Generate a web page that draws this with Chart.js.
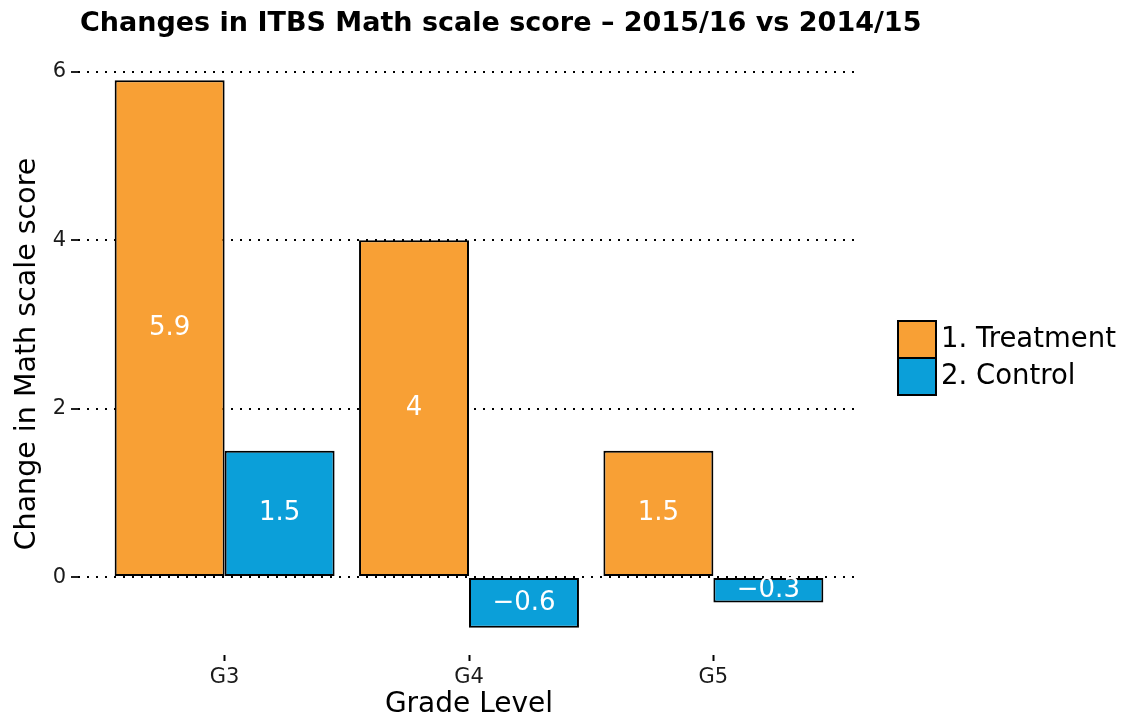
<!DOCTYPE html>
<html>
<head>
<meta charset="utf-8">
<script src="https://cdn.jsdelivr.net/npm/chart.js@4/dist/chart.umd.min.js"></script>
<style>
  html, body { margin: 0; padding: 0; background: #fff; }
  #wrap { width: 1125px; height: 725px; }
</style>
</head>
<body>
<div id="wrap"><canvas id="chart" width="1125" height="725"></canvas></div>
<script>
// ================== Data ==================
const titleText = "Changes in ITBS Math scale score \u2013 2015/16 vs 2014/15";
const grades = ["G3", "G4", "G5"];
const seriesNames = ["1. Treatment", "2. Control"];
const treatment = [5.9, 4, 1.5];
const control = [1.5, -0.6, -0.3];
const yTicks = [0, 2, 4, 6];

const seriesColors = ["#F8A035", "#0B9FD9"];
const FONT = "'DejaVu Sans', 'Liberation Sans', Arial, sans-serif";

const fmt = (v) => (v < 0 ? "\u2212" + Math.abs(v) : String(v));

// ================== Plugin: title, bar labels, legend ==================
const extras = {
  id: "extras",
  afterDatasetsDraw(chart) {
    const ctx = chart.ctx;
    const area = chart.chartArea;
    ctx.save();

    // bar value labels, centred in each bar
    ctx.font = "26px " + FONT;
    ctx.fillStyle = "#ffffff";
    ctx.textAlign = "center";
    ctx.textBaseline = "middle";
    chart.data.datasets.forEach((ds, di) => {
      const meta = chart.getDatasetMeta(di);
      meta.data.forEach((bar, i) => {
        const v = ds.data[i].y;
        ctx.fillText(fmt(v), bar.x, (bar.y + bar.base) / 2);
      });
    });

    // title
    ctx.font = "bold 27px " + FONT;
    ctx.fillStyle = "#000";
    ctx.textAlign = "left";
    ctx.fillText(titleText, 80, 24);

    // legend
    const lx = area.right + 38;
    let ly = 321;
    ctx.font = "27.5px " + FONT;
    chart.data.datasets.forEach((ds) => {
      ctx.fillStyle = ds.backgroundColor;
      ctx.fillRect(lx, ly, 38, 37);
      ctx.lineWidth = 2;
      ctx.strokeStyle = "#000";
      ctx.strokeRect(lx, ly, 38, 37);
      ctx.fillStyle = "#000";
      ctx.textAlign = "left";
      ctx.fillText(ds.label, lx + 43, ly + 19);
      ly += 37;
    });
    ctx.restore();
  },
};

// ================== Chart ==================
const ctx = document.getElementById("chart").getContext("2d");
const chart = new Chart(ctx, {
  type: "bar",
  data: {
    datasets: [
      {
        label: seriesNames[0],
        data: treatment.map((v, i) => ({ x: i + 1, y: v })),
        backgroundColor: seriesColors[0],
        borderColor: "#000",
        borderWidth: 2,
        borderSkipped: false,
      },
      {
        label: seriesNames[1],
        data: control.map((v, i) => ({ x: i + 1, y: v })),
        backgroundColor: seriesColors[1],
        borderColor: "#000",
        borderWidth: 2,
        borderSkipped: false,
      },
    ],
  },
  options: {
    responsive: false,
    animation: false,
    devicePixelRatio: 1,
    categoryPercentage: 0.9,
    barPercentage: 1,
    layout: { padding: { top: 53, right: 265, bottom: 0, left: 0 } },
    plugins: {
      legend: { display: false },
      title: { display: false },
      tooltip: { enabled: false },
    },
    scales: {
      x: {
        type: "linear",
        min: 0.4,
        max: 3.6,
        offset: false,
        afterBuildTicks: (scale) => {
          scale.ticks = grades.map((g, i) => ({ value: i + 1 }));
        },
        afterFit: (scale) => {
          scale.height = 70;
        },
        ticks: {
          color: "#1a1a1a",
          font: { family: FONT, size: 21 },
          padding: 4,
          callback: (v) => grades[v - 1],
        },
        grid: {
          offset: false,
          drawOnChartArea: false,
          drawTicks: true,
          tickLength: 6,
          tickColor: "#000",
          tickWidth: 2,
        },
        border: { display: false },
        title: {
          display: true,
          text: "Grade Level",
          color: "#000",
          font: { family: FONT, size: 28 },
          padding: { top: 0, bottom: 3 },
        },
      },
      y: {
        min: -0.925,
        max: 6.225,
        afterBuildTicks: (scale) => {
          scale.ticks = yTicks.map((v) => ({ value: v }));
        },
        afterFit: (scale) => {
          scale.width = 78;
        },
        ticks: {
          color: "#1a1a1a",
          font: { family: FONT, size: 21 },
          padding: 5,
          callback: (v) => String(v),
        },
        grid: {
          color: "#000",
          lineWidth: 2,
          drawTicks: true,
          tickLength: 7,
          tickColor: "#222",
          tickWidth: 2,
          tickBorderDash: [],
        },
        border: { display: false, dash: [2, 7], dashOffset: 0 },
        title: {
          display: true,
          text: "Change in Math scale score",
          color: "#000",
          font: { family: FONT, size: 28.5 },
          padding: { top: 10, bottom: 0 },
        },
      },
    },
  },
  plugins: [extras],
});
</script>
</body>
</html>
